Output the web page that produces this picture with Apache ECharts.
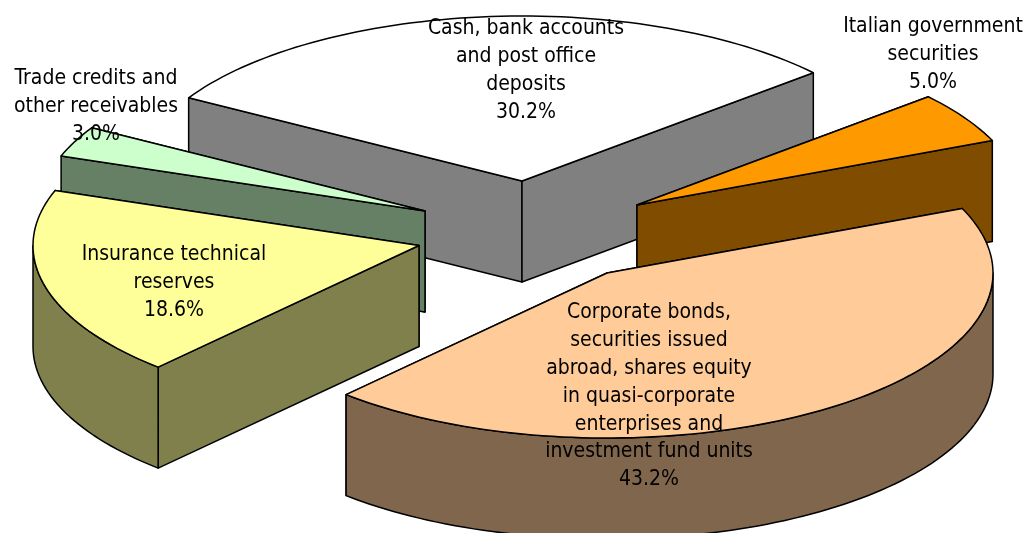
<!DOCTYPE html>
<html>
<head>
<meta charset="utf-8">
<style>html,body{margin:0;padding:0;background:#fff}#c{width:1029px;height:533px}</style>
<script src="https://cdn.jsdelivr.net/npm/echarts@6/dist/echarts.min.js"></script>
</head>
<body>
<div id="c"></div>
<script>
// ---- data (clockwise from the first slice) ----
var categories = [
  'Italian government\nsecurities',
  'Corporate bonds,\nsecurities issued\nabroad, shares equity\nin quasi-corporate\nenterprises and\ninvestment fund units',
  'Insurance technical\nreserves',
  'Trade credits and\nother receivables',
  'Cash, bank accounts\nand post office\ndeposits'
];
var shares = [5.0, 43.2, 18.6, 3.0, 30.2];

// ---- styles and layout ----
var topColors  = ['#FF9900', '#FFCC99', '#FFFF99', '#CCFFCC', '#FFFFFF'];
var wallColors = ['#804D00', '#80664D', '#80804D', '#668066', '#808080'];
var paintOrder = [4, 3, 0, 2, 1];            // back to front
var firstAngle = -41;                        // degrees of the first slice's start
var radiusX = 386, radiusY = 165, wallHeight = 101;
var apexes = [[637, 205], [607, 273], [419, 245.5], [425, 211], [522, 181]];
var labelAnchors = [[933, 13], [649, 299], [174, 241], [96, 65], [526, 15]];
var lineHeight = 27.8;
var fontFamily = '"DejaVu Sans Condensed", "DejaVu Sans", sans-serif';
var fontSize = 21;

var total = shares.reduce(function (a, b) { return a + b; }, 0);
var spans = [], acc = firstAngle;
shares.forEach(function (v) {
  var sweep = v / total * 360;
  spans.push([acc, acc + sweep]);
  acc += sweep;
});
function rad(d) { return d * Math.PI / 180; }
function rim(i, deg, drop) {
  return [apexes[i][0] + radiusX * Math.cos(rad(deg)),
          apexes[i][1] + radiusY * Math.sin(rad(deg)) + (drop || 0)];
}
function arcPoints(i, from, to, drop) {
  var pts = [], n = Math.max(2, Math.ceil(Math.abs(to - from) / 1.5));
  for (var k = 0; k <= n; k++) pts.push(rim(i, from + (to - from) * k / n, drop));
  return pts;
}
function poly(points, fill) {
  return { type: 'polygon', shape: { points: points },
           style: { fill: fill, stroke: '#000', lineWidth: 1.5, lineJoin: 'round' } };
}
function cutFace(i, deg, fill) {
  var a = apexes[i], r = rim(i, deg);
  return poly([a, r, [r[0], r[1] + wallHeight], [a[0], a[1] + wallHeight]], fill);
}
function renderSlice(params, api) {
  var i = api.value(0), s = spans[i][0], e = spans[i][1], wall = wallColors[i];
  var startVisible = Math.cos(rad(s)) < 0, endVisible = Math.cos(rad(e)) > 0;
  var back = [], front = [];
  (startVisible ? front : back).push(cutFace(i, s, wall));
  (endVisible ? front : back).push(cutFace(i, e, wall));
  var children = back.concat(front);
  // curved outer wall: only the part of the rim that faces the viewer
  [[-360, -180], [0, 180], [360, 540]].forEach(function (w) {
    var a = Math.max(s, w[0]), b = Math.min(e, w[1]);
    if (b > a) {
      children.push(poly(arcPoints(i, a, b, 0).concat(arcPoints(i, b, a, wallHeight)), wall));
    }
  });
  children.push(poly([apexes[i]].concat(arcPoints(i, s, e, 0)), topColors[i]));
  return { type: 'group', children: children };
}
function renderLabel(params, api) {
  var i = api.value(0);
  return {
    type: 'text',
    style: {
      x: labelAnchors[i][0], y: labelAnchors[i][1],
      text: categories[i] + '\n' + shares[i].toFixed(1) + '%',
      fill: '#000', align: 'center', verticalAlign: 'top',
      font: fontSize + 'px ' + fontFamily, lineHeight: lineHeight
    }
  };
}

var chart = echarts.init(document.getElementById('c'), null, { renderer: 'canvas' });
chart.setOption({
  backgroundColor: '#fff',
  animation: false,
  series: [
    { type: 'custom', coordinateSystem: 'none', z: 2, silent: true, clip: false,
      encode: {}, renderItem: renderSlice,
      data: paintOrder.map(function (i) { return [i, shares[i]]; }) },
    { type: 'custom', coordinateSystem: 'none', z: 3, silent: true, clip: false,
      encode: {}, renderItem: renderLabel,
      data: paintOrder.map(function (i) { return [i, shares[i]]; }) }
  ]
});
</script>
</body>
</html>
